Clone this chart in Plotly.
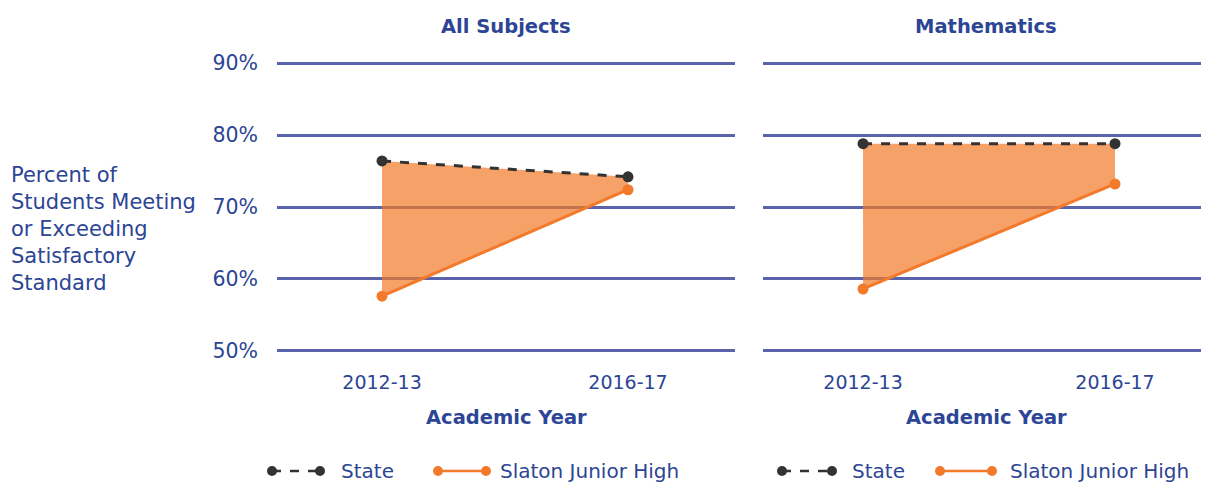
import plotly.graph_objects as go

years = ["2012-13", "2016-17"]
panels = ["All Subjects", "Mathematics"]
state_all = [76.4, 74.2]
slaton_all = [57.6, 72.4]
state_math = [78.8, 78.8]
slaton_math = [58.6, 73.2]
y_ticks = [50, 60, 70, 80, 90]
y_tick_text = ["50%", "60%", "70%", "80%", "90%"]

FONT = "DejaVu Sans"
TXT = "#2C4594"
GRID = "#5B63AB"
ORANGE = "#F37A2A"
DARK = "#333333"
FILL = "rgba(242,121,40,0.7)"

OFF = 8  # page body margin
W, H = 1209 - OFF, 485 - OFF
PAD = 0.3  # extra y range so edge gridlines render
PXPER = 7.2
L = 277 - OFF
R = 0
T = int(round(63 - OFF - PAD * PXPER))
PH = int(round((40 + 2 * PAD) * PXPER))
B = H - T - PH
PW = W - L - R


def px(x):
    return (x - OFF - L) / PW


def py(y):
    return (H - B - (y - OFF)) / PH


fig = go.Figure()

for i, (st, sl) in enumerate([(state_all, slaton_all), (state_math, slaton_math)]):
    xa = "x" if i == 0 else "x2"
    ya = "y" if i == 0 else "y2"
    fig.add_trace(go.Scatter(
        x=years, y=sl, xaxis=xa, yaxis=ya, mode="lines+markers",
        line=dict(color=ORANGE, width=3), marker=dict(color=ORANGE, size=11),
        showlegend=False, name="Slaton Junior High"))
    fig.add_trace(go.Scatter(
        x=years, y=st, xaxis=xa, yaxis=ya, mode="lines+markers",
        line=dict(color=DARK, width=3, dash="dash"), marker=dict(color=DARK, size=11),
        fill="tonexty", fillcolor=FILL,
        showlegend=False, name="State"))

axis_common = dict(showline=False, zeroline=False, ticks="")

fig.update_layout(
    width=W, height=H, margin=dict(l=L, r=R, t=T, b=B),
    paper_bgcolor="white", plot_bgcolor="white",
    font=dict(family=FONT, color=TXT),
    xaxis=dict(domain=[0, px(735)], range=[-0.427, 1.435], type="category",
               showgrid=False, ticklabelstandoff=16,
               tickfont=dict(family=FONT, size=19, color=TXT), **axis_common),
    xaxis2=dict(domain=[px(763), 1], range=[-0.397, 1.373], type="category",
                showgrid=False, ticklabelstandoff=16, anchor="y2",
                tickfont=dict(family=FONT, size=19, color=TXT), **axis_common),
    yaxis=dict(range=[50 - PAD, 90 + PAD], tickvals=y_ticks, ticktext=y_tick_text,
               showgrid=True, gridcolor=GRID, gridwidth=2.5, ticklabelstandoff=18,
               tickfont=dict(family=FONT, size=20.5, color=TXT), **axis_common),
    yaxis2=dict(range=[50 - PAD, 90 + PAD], tickvals=y_ticks, showticklabels=False, anchor="x2",
                showgrid=True, gridcolor=GRID, gridwidth=2.5, **axis_common),
)

ann = []
centers = [(277 + 735) / 2, (763 + 1209) / 2]
for c, title in zip(centers, panels):
    ann.append(dict(text="<b>%s</b>" % title, x=px(c), y=py(26), xref="paper", yref="paper",
                    showarrow=False, xanchor="center", yanchor="middle",
                    font=dict(family=FONT, size=19.5, color=TXT)))
    ann.append(dict(text="<b>Academic Year</b>", x=px(c), y=py(417), xref="paper", yref="paper",
                    showarrow=False, xanchor="center", yanchor="middle",
                    font=dict(family=FONT, size=19.5, color=TXT)))

ylines = ["Percent of", "Students Meeting", "or Exceeding", "Satisfactory", "Standard"]
for k, line in enumerate(ylines):
    ann.append(dict(text=line, x=px(9), y=py(175 + 27 * k), xref="paper", yref="paper",
                    showarrow=False, xanchor="left", yanchor="middle",
                    font=dict(family=FONT, size=21, color=TXT)))

shapes = []
LY = 471
ly = py(LY)
legends = [
    (272, 320, 339, "State", DARK, "dash"),
    (438, 486, 498, "Slaton Junior High", ORANGE, "solid"),
    (782, 832, 850, "State", DARK, "dash"),
    (940, 992, 1008, "Slaton Junior High", ORANGE, "solid"),
]
r_dot = 5
for x0, x1, xt, label, col, dash in legends:
    shapes.append(dict(type="line", xref="paper", yref="paper", x0=px(x0), x1=px(x1),
                       y0=ly, y1=ly, line=dict(color=col, width=2.5, dash=dash)))
    for xc in (x0, x1):
        shapes.append(dict(type="circle", xref="paper", yref="paper",
                           x0=px(xc - r_dot), x1=px(xc + r_dot),
                           y0=py(LY + r_dot), y1=py(LY - r_dot),
                           fillcolor=col, line=dict(color=col, width=0)))
    ann.append(dict(text=label, x=px(xt), y=ly, xref="paper", yref="paper",
                    showarrow=False, xanchor="left", yanchor="middle",
                    font=dict(family=FONT, size=20, color=TXT)))

fig.update_layout(annotations=ann, shapes=shapes)
fig.write_html("out.html")
